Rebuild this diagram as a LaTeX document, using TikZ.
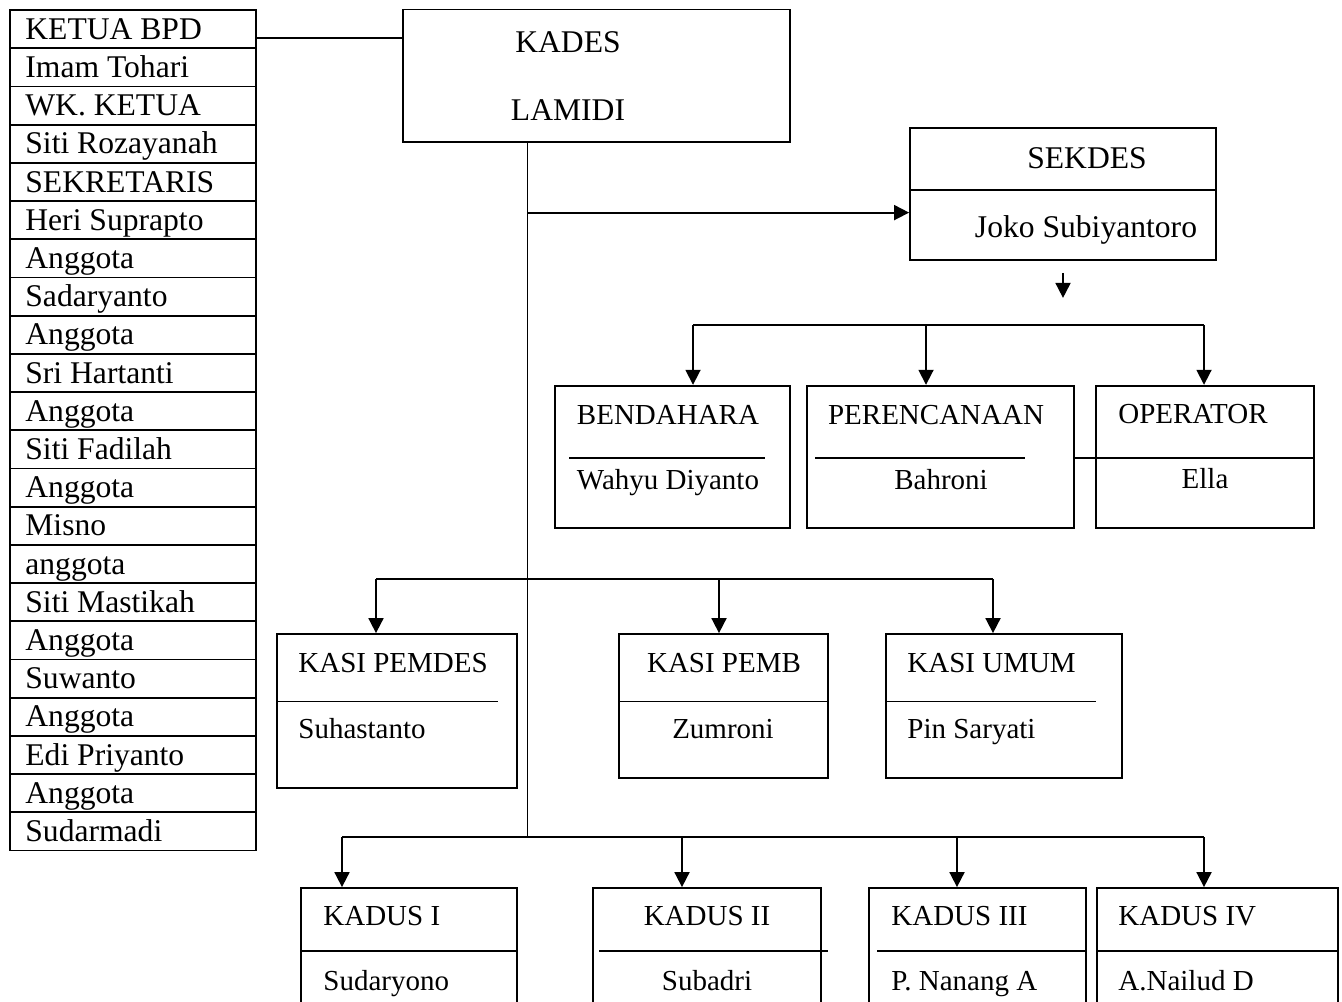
\documentclass[tikz,border=0pt]{standalone}
\usepackage{fontspec}
\setmainfont{Liberation Serif}
\usetikzlibrary{arrows.meta,fit}
\begin{document}
\begin{tikzpicture}[x=0.5pt,y=-0.5pt,
  box/.style={draw, line width=0.9pt, rectangle, inner sep=0pt},
  ln/.style={line width=0.9pt},
  arr/.style={line width=0.9pt, -{Triangle[length=7.5pt,width=7.5pt]}},
  big/.style={inner sep=0pt, font=\fontsize{15.8}{18}\selectfont},
  sml/.style={inner sep=0pt, font=\fontsize{14.5}{17}\selectfont}]
\useasboundingbox (0,0) rectangle (1342,1001);
\clip (0,0) rectangle (1342,1001);

% BPD table
\foreach \t [count=\i from 0] in {KETUA BPD,Imam Tohari,WK. KETUA,Siti Rozayanah,SEKRETARIS,Heri Suprapto,Anggota,Sadaryanto,Anggota,Sri Hartanti,Anggota,Siti Fadilah,Anggota,Misno,anggota,Siti Mastikah,Anggota,Suwanto,Anggota,Edi Priyanto,Anggota,Sudarmadi}{
  \node[box, fit={(10,{10+38.2*\i}) (256,{10+38.2*(\i+1)})}] (r\i) {};
  \node[big, anchor=base west] (rt\i) at (25,{10+38.2*\i+29.3}) {\t};
}

% KADES
\node[box, fit={(403,9.5) (790,141.7)}] (kades) {};
\node[big, anchor=base] (kadesA) at (568,52) {KADES};
\node[big, anchor=base] (kadesB) at (568,120) {LAMIDI};
\coordinate (c1) at (0,37.7);
\draw[ln] (r0.east |- c1) -- (kades.west |- c1);

% trunk
\coordinate (tk) at (527.5,0);
\coordinate (y2) at (0,212.6);
\coordinate (y3) at (0,579);
\coordinate (y4) at (0,837);
\draw[ln] (kades.south -| tk) -- (tk |- y4);

% SEKDES
\node[box, fit={(910,128) (1216,260)}] (sekdes) {};
\coordinate (d0) at (0,190);
\draw[ln] (sekdes.west |- d0) -- (sekdes.east |- d0);
\node[big, anchor=base] (sekA) at (1087,168) {SEKDES};
\node[big, anchor=base] (sekB) at (1086,237) {Joko Subiyantoro};
\draw[arr] (tk |- y2) -- (sekdes.west |- y2);
\draw[arr] ([yshift=-6pt]sekdes.south) -- ++(0,25);

% row 2
\coordinate (y1) at (0,325);
\coordinate (xa) at (693,0);
\coordinate (xb) at (926,0);
\coordinate (xc) at (1204,0);
\node[box, fit={(555,385.7) (790,528.3)}] (bend) {};
\node[box, fit={(807,385.7) (1074,528.3)}] (peren) {};
\node[box, fit={(1096,385.7) (1314,528.3)}] (oper) {};
\draw[ln] (xa |- y1) -- (xc |- y1);
\draw[arr] (xa |- y1) -- (xa |- bend.north);
\draw[arr] (xb |- y1) -- (xb |- peren.north);
\draw[arr] (xc |- y1) -- (xc |- oper.north);
\coordinate (d2) at (0,458.3);
\draw[ln] (569,458.3) -- (765,458.3);
\draw[ln] (815,458.3) -- (1025,458.3);
\draw[ln] (peren.east |- d2) -- (oper.east |- d2);
\node[sml, anchor=base] (bendA) at (668,424) {BENDAHARA};
\node[sml, anchor=base] (bendB) at (668,489) {Wahyu Diyanto};
\node[sml, anchor=base] (perA) at (936,424) {PERENCANAAN};
\node[sml, anchor=base] (perB) at (941,489) {Bahroni};
\node[sml, anchor=base] (opA) at (1193,423) {OPERATOR};
\node[sml, anchor=base] (opB) at (1205,488) {Ella};

% row 3
\coordinate (xd) at (376,0);
\coordinate (xe) at (719,0);
\coordinate (xf) at (993,0);
\node[box, fit={(277,634) (517,788)}] (kpd) {};
\node[box, fit={(619,634) (828,778)}] (kpb) {};
\node[box, fit={(886,634) (1122,778)}] (kum) {};
\draw[ln] (xd |- y3) -- (xf |- y3);
\draw[arr] (xd |- y3) -- (xd |- kpd.north);
\draw[arr] (xe |- y3) -- (xe |- kpb.north);
\draw[arr] (xf |- y3) -- (xf |- kum.north);
\coordinate (d3) at (0,701.5);
\draw[ln] (kpd.west |- d3) -- (498,701.5);
\draw[ln] (kpb.west |- d3) -- (kpb.east |- d3);
\draw[ln] (kum.west |- d3) -- (1096,701.5);
\node[sml, anchor=base west] (kpdA) at (298,672) {KASI PEMDES};
\node[sml, anchor=base west] (kpdB) at (298,738) {Suhastanto};
\node[sml, anchor=base] (kpbA) at (724,672) {KASI PEMB};
\node[sml, anchor=base] (kpbB) at (723,738) {Zumroni};
\node[sml, anchor=base west] (kumA) at (907,672) {KASI UMUM};
\node[sml, anchor=base west] (kumB) at (907,738) {Pin Saryati};

% row 4
\coordinate (xg) at (342,0);
\coordinate (xh) at (682,0);
\coordinate (xi) at (957,0);
\coordinate (xj) at (1204,0);
\node[box, fit={(301,888) (517,1040)}] (k1) {};
\node[box, fit={(593,888) (821,1040)}] (k2) {};
\node[box, fit={(869,888) (1086,1040)}] (k3) {};
\node[box, fit={(1097,888) (1338,1040)}] (k4) {};
\draw[ln] (xg |- y4) -- (xj |- y4);
\draw[arr] (xg |- y4) -- (xg |- k1.north);
\draw[arr] (xh |- y4) -- (xh |- k2.north);
\draw[arr] (xi |- y4) -- (xi |- k3.north);
\draw[arr] (xj |- y4) -- (xj |- k4.north);
\coordinate (d4) at (0,951);
\draw[ln] (k1.west |- d4) -- (k1.east |- d4);
\draw[ln] (599,951) -- (828,951);
\draw[ln] (877,951) -- (k3.east |- d4);
\draw[ln] (k4.west |- d4) -- (k4.east |- d4);
\node[sml, anchor=base west] (k1A) at (323,925) {KADUS I};
\node[sml, anchor=base west] (k1B) at (323,990) {Sudaryono};
\node[sml, anchor=base] (k2A) at (707,925) {KADUS II};
\node[sml, anchor=base] (k2B) at (707,990) {Subadri};
\node[sml, anchor=base west] (k3A) at (891,925) {KADUS III};
\node[sml, anchor=base west] (k3B) at (891,990) {P. Nanang A};
\node[sml, anchor=base west] (k4A) at (1118,925) {KADUS IV};
\node[sml, anchor=base west] (k4B) at (1118,990) {A.Nailud D};
\end{tikzpicture}
\end{document}
